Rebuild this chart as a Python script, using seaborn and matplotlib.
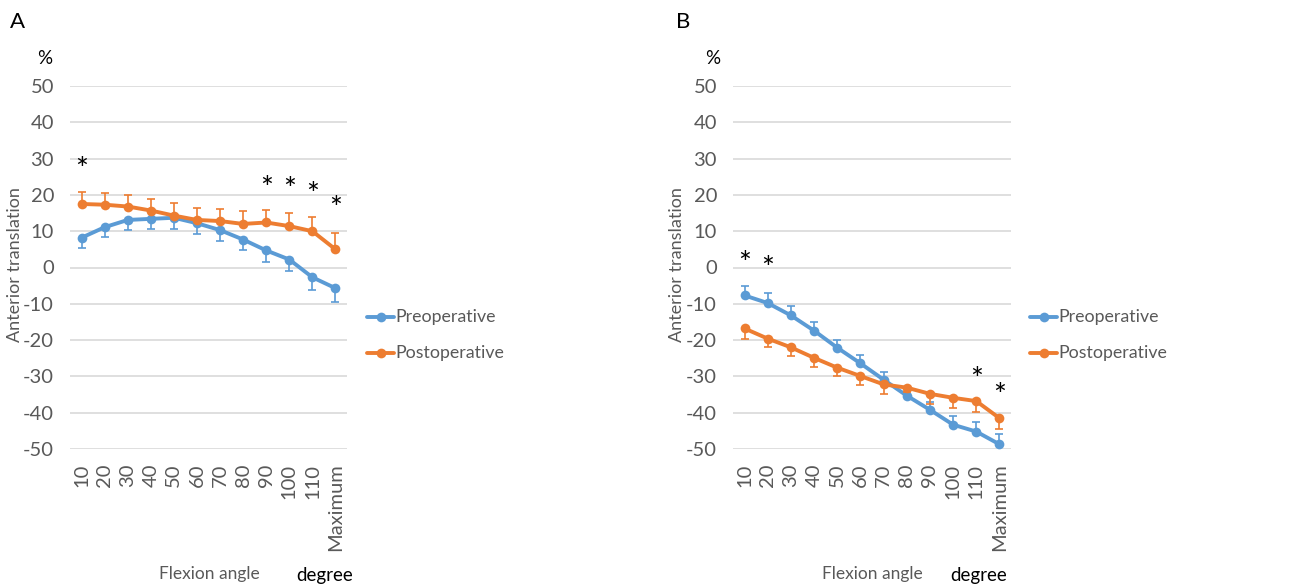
import matplotlib
matplotlib.use("Agg")
import matplotlib.pyplot as plt
import seaborn as sns
import pandas as pd

# Flexion angle categories
angles = ["10", "20", "30", "40", "50", "60", "70", "80", "90", "100", "110", "Maximum"]

# Panel A
pre_a = [8.2, 11.1, 13.1, 13.4, 13.7, 12.2, 10.3, 7.7, 4.7, 2.2, -2.7, -5.7]
pre_a_sd = [2.7, 2.6, 2.7, 2.7, 3.0, 2.9, 2.9, 3.0, 3.2, 3.2, 3.6, 3.8]
post_a = [17.5, 17.3, 16.8, 15.7, 14.3, 13.1, 12.8, 12.0, 12.4, 11.4, 10.0, 5.0]
post_a_sd = [3.2, 3.2, 3.3, 3.3, 3.6, 3.3, 3.2, 3.5, 3.4, 3.5, 3.8, 4.6]
stars_a = {"10": 28.7, "90": 23.6, "100": 23.4, "110": 22.0, "Maximum": 17.9}

# Panel B
pre_b = [-7.7, -9.8, -13.2, -17.4, -22.1, -26.4, -30.9, -35.3, -39.2, -43.3, -45.2, -48.7]
pre_b_sd = [2.6, 2.8, 2.5, 2.4, 2.0, 2.2, 2.2, 1.8, 2.1, 2.3, 2.7, 2.9]
post_b = [-16.8, -19.6, -22.0, -24.9, -27.6, -29.9, -32.2, -33.1, -34.8, -35.9, -36.8, -41.5]
post_b_sd = [2.8, 2.4, 2.3, 2.4, 2.4, 2.4, 2.6, 1.2, 2.7, 2.7, 3.0, 3.1]
stars_b = {"10": 2.8, "20": 1.5, "110": -29.1, "Maximum": -33.4}

yticks = [50, 40, 30, 20, 10, 0, -10, -20, -30, -40, -50]

BLUE = "#5B9BD5"
ORANGE = "#ED7D31"
GREY = "#595959"

sns.set_theme(style="white")
plt.rcParams["font.family"] = ["Lato", "DejaVu Sans"]

fig = plt.figure(figsize=(12.95, 5.86), dpi=100)
W, H = 1295, 586


def make_axes(left, right):
    return fig.add_axes([left / W, 1 - 449 / H, (right - left) / W, (449 - 86) / H])


def draw_panel(ax, pre, pre_sd, post, post_sd, stars, pre_down):
    pos = list(range(len(angles)))
    zeros = [0] * len(pos)
    df = pd.DataFrame({
        "pos": pos + pos,
        "value": pre + post,
        "group": ["Preoperative"] * len(pos) + ["Postoperative"] * len(pos),
    })
    for t in yticks:
        ax.axhline(t, color="#D9D9D9", lw=1.2, zorder=0)
    # one-sided error bars, pointing away from the other series
    pre_err = [pre_sd, zeros] if pre_down else [zeros, pre_sd]
    post_err = [zeros, post_sd] if pre_down else [post_sd, zeros]
    ax.errorbar(pos, pre, yerr=pre_err, fmt="none",
                ecolor=BLUE, elinewidth=1.2, capsize=3, capthick=1.2, zorder=2)
    ax.errorbar(pos, post, yerr=post_err, fmt="none",
                ecolor=ORANGE, elinewidth=1.2, capsize=3, capthick=1.2, zorder=4)
    sns.lineplot(data=df, x="pos", y="value", hue="group",
                 palette={"Preoperative": BLUE, "Postoperative": ORANGE},
                 marker="o", markersize=7, markeredgewidth=0, linewidth=2.8,
                 ax=ax, zorder=3)
    for lab, y in stars.items():
        ax.annotate("*", (angles.index(lab), y), xytext=(0, -5),
                    textcoords="offset points", ha="center", va="center",
                    fontsize=22, color="black")
    ax.set_xlim(-0.5, len(angles) - 0.5)
    ax.set_ylim(-50, 50)
    ax.set_yticks(yticks)
    ax.set_yticklabels([str(t) for t in yticks], fontsize=14.5, color=GREY)
    ax.set_xticks(pos)
    ax.set_xticklabels(angles, rotation=90, fontsize=14.5, color=GREY)
    ax.tick_params(axis="y", length=0, pad=11.5)
    ax.tick_params(axis="x", length=0, pad=10.5)
    ax.set_xlabel("")
    ax.set_ylabel("")
    for s in ax.spines.values():
        s.set_visible(False)
    ax.get_legend().remove()


ax_a = make_axes(70, 347)
draw_panel(ax_a, pre_a, pre_a_sd, post_a, post_a_sd, stars_a, True)
ax_b = make_axes(733, 1011)
draw_panel(ax_b, pre_b, pre_b_sd, post_b, post_b_sd, stars_b, False)

# panel texts and legends
for letter, x0, letter_x, pct_x, ylab_x, flex_x, deg_x in [
        ("A", 367, 10, 45, 15, 209, 325),
        ("B", 1030, 676, 713, 677, 872, 979)]:
    fig.text(letter_x / W, 1 - 22 / H, letter,
             fontsize=16, color="black", va="center", ha="left")
    fig.text(pct_x / W, 1 - 58 / H, "%", fontsize=13.5, color="black",
             va="center", ha="center")
    fig.text(ylab_x / W, 1 - 265 / H, "Anterior translation", fontsize=13,
             color=GREY, rotation=90, va="center", ha="center")
    fig.text(flex_x / W, 1 - 574 / H, "Flexion angle", fontsize=12.5,
             color=GREY, va="center", ha="center")
    fig.text(deg_x / W, 1 - 575 / H, "degree", fontsize=13.5,
             color="black", va="center", ha="center")
    for lab, col, yy in [("Preoperative", BLUE, 317), ("Postoperative", ORANGE, 353)]:
        fig.add_artist(plt.Line2D([x0 / W, (x0 + 27) / W], [1 - yy / H] * 2,
                                  color=col, lw=2.8))
        fig.add_artist(plt.Line2D([(x0 + 13.5) / W], [1 - yy / H],
                                  color=col, marker="o", markersize=7,
                                  markeredgewidth=0, lw=0))
        fig.text((x0 + 28) / W, 1 - yy / H, lab, fontsize=12.8, color=GREY,
                 va="center", ha="left")

fig.savefig("out.png", dpi=100, facecolor="white")
